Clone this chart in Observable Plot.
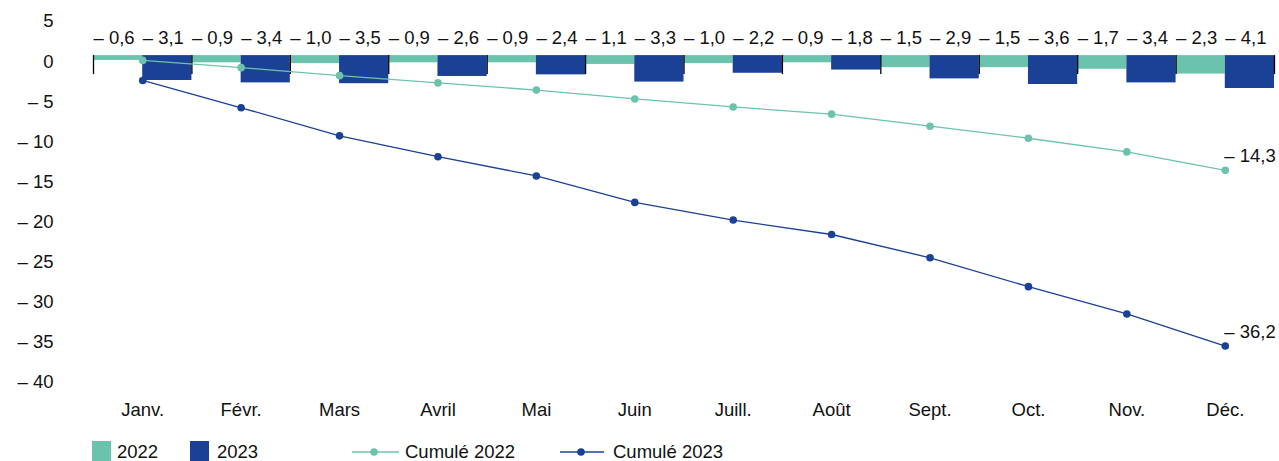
<!DOCTYPE html>
<html>
<head>
<meta charset="utf-8">
<script src="https://cdn.jsdelivr.net/npm/d3@7"></script>
<script src="https://cdn.jsdelivr.net/npm/@observablehq/plot@0.6"></script>
<style>
  body { margin: 0; background: #fff; font-family: "Liberation Sans", Arial, sans-serif; color: #111; }
  #chart { width: 1279px; }
  .legend { position: relative; width: 1279px; height: 31px; font-size: 18.5px; }
  .legend .sw { position: absolute; top: 11px; width: 19px; height: 20px; }
  .legend .lb { position: absolute; top: 11px; line-height: 22px; }
  .legend svg { position: absolute; top: 11px; }
</style>
</head>
<body>
<div id="chart"></div>
<div class="legend" id="legend"></div>
<script>
const months = ["Janv.", "Févr.", "Mars", "Avril", "Mai", "Juin", "Juill.", "Août", "Sept.", "Oct.", "Nov.", "Déc."];
const monthly2022 = [-0.6, -0.9, -1.0, -0.9, -0.9, -1.1, -1.0, -0.9, -1.5, -1.5, -1.7, -2.3];
const monthly2023 = [-3.1, -3.4, -3.5, -2.6, -2.4, -3.3, -2.2, -1.8, -2.9, -3.6, -3.4, -4.1];
const cumul2022 = [-0.6, -1.5, -2.5, -3.4, -4.3, -5.4, -6.4, -7.3, -8.8, -10.3, -12.0, -14.3];
const cumul2023 = [-3.1, -6.5, -10.0, -12.6, -15.0, -18.3, -20.5, -22.3, -25.2, -28.8, -32.2, -36.2];
const yTicks = [5, 0, -5, -10, -15, -20, -25, -30, -35, -40];

const teal = "#6cc3ad";
const blue = "#1a4196";
const font = "'Liberation Sans', Arial, sans-serif";
const fs = 18.5;

const fmtVal = v => v < 0 ? "\u2013 " + d3.format(".1f")(-v).replace(".", ",") : d3.format(".1f")(v).replace(".", ",");
const fmtTick = v => v < 0 ? "\u2013 " + (-v) : String(v);

// bars table: month index, year slot (0 = 2022, 1 = 2023)
const bars = [];
months.forEach((m, i) => {
  bars.push({month: m, i, slot: 0, year: "2022", value: monthly2022[i]});
  bars.push({month: m, i, slot: 1, year: "2023", value: monthly2023[i]});
});
const cum22 = months.map((m, i) => ({month: m, i, value: cumul2022[i]}));
const cum23 = months.map((m, i) => ({month: m, i, value: cumul2023[i]}));
const edges = d3.range(months.length + 1);

const chart = Plot.plot({
  width: 1279,
  height: 430,
  marginLeft: 93,
  marginRight: 5,
  marginTop: 15,
  marginBottom: 54,
  style: {fontFamily: font, fontSize: fs + "px", color: "#111", background: "#fff"},
  x: {type: "linear", domain: [0, months.length], axis: null},
  y: {domain: [-40, 5], axis: null},
  color: {domain: ["2022", "2023"], range: [teal, blue]},
  marks: [
    Plot.rect(bars, {
      x1: d => d.i + d.slot * 0.5,
      x2: d => d.i + (d.slot + 1) * 0.5,
      y1: 0,
      y2: "value",
      fill: "year"
    }),
    Plot.ruleX(edges, {x: d => d, y1: 0, y2: 0, insetBottom: -19, stroke: "#000", strokeWidth: 1.3}),
    Plot.text(bars, {
      x: d => d.i + d.slot * 0.5,
      frameAnchor: "top",
      lineAnchor: "middle",
      dy: 23,
      dx: 0,
      textAnchor: "start",
      text: d => fmtVal(d.value),
      fill: "#111",
      fontSize: fs
    }),
    Plot.axisY({ticks: yTicks, tickSize: 0, tickPadding: 40, tickFormat: fmtTick, label: null, dy: 6, fontSize: fs, fill: "#111"}),
    Plot.text(months, {
      x: (d, i) => i + 0.5,
      frameAnchor: "bottom",
      lineAnchor: "middle",
      dy: 34,
      text: d => d,
      fill: "#111",
      fontSize: fs
    }),
    Plot.line(cum22, {x: d => d.i + 0.5, y: "value", stroke: teal, strokeWidth: 1.3}),
    Plot.dot(cum22, {x: d => d.i + 0.5, y: "value", fill: teal, r: 3.8}),
    Plot.line(cum23, {x: d => d.i + 0.5, y: "value", stroke: blue, strokeWidth: 1.3}),
    Plot.dot(cum23, {x: d => d.i + 0.5, y: "value", fill: blue, r: 3.8}),
    Plot.text([cum22[cum22.length - 1], cum23[cum23.length - 1]], {
      x: d => d.i + 0.5,
      y: "value",
      dy: -14,
      dx: -1,
      textAnchor: "start",
      text: d => fmtVal(d.value),
      fill: "#111",
      fontSize: fs
    })
  ]
});
document.getElementById("chart").appendChild(chart);

// legend
const legend = document.getElementById("legend");
legend.innerHTML = `
  <div class="sw" style="left:92px;background:${teal}"></div>
  <div class="lb" style="left:117px">2022</div>
  <div class="sw" style="left:190px;background:${blue}"></div>
  <div class="lb" style="left:217px">2023</div>
  <svg style="left:352px" width="47" height="22"><line x1="0" x2="47" y1="11" y2="11" stroke="${teal}" stroke-width="1.3"/><circle cx="22" cy="11" r="3.8" fill="${teal}"/></svg>
  <div class="lb" style="left:405px">Cumulé 2022</div>
  <svg style="left:560px" width="44" height="22"><line x1="0" x2="44" y1="11" y2="11" stroke="${blue}" stroke-width="1.3"/><circle cx="21" cy="11" r="3.8" fill="${blue}"/></svg>
  <div class="lb" style="left:613px">Cumulé 2023</div>
`;
</script>
</body>
</html>
